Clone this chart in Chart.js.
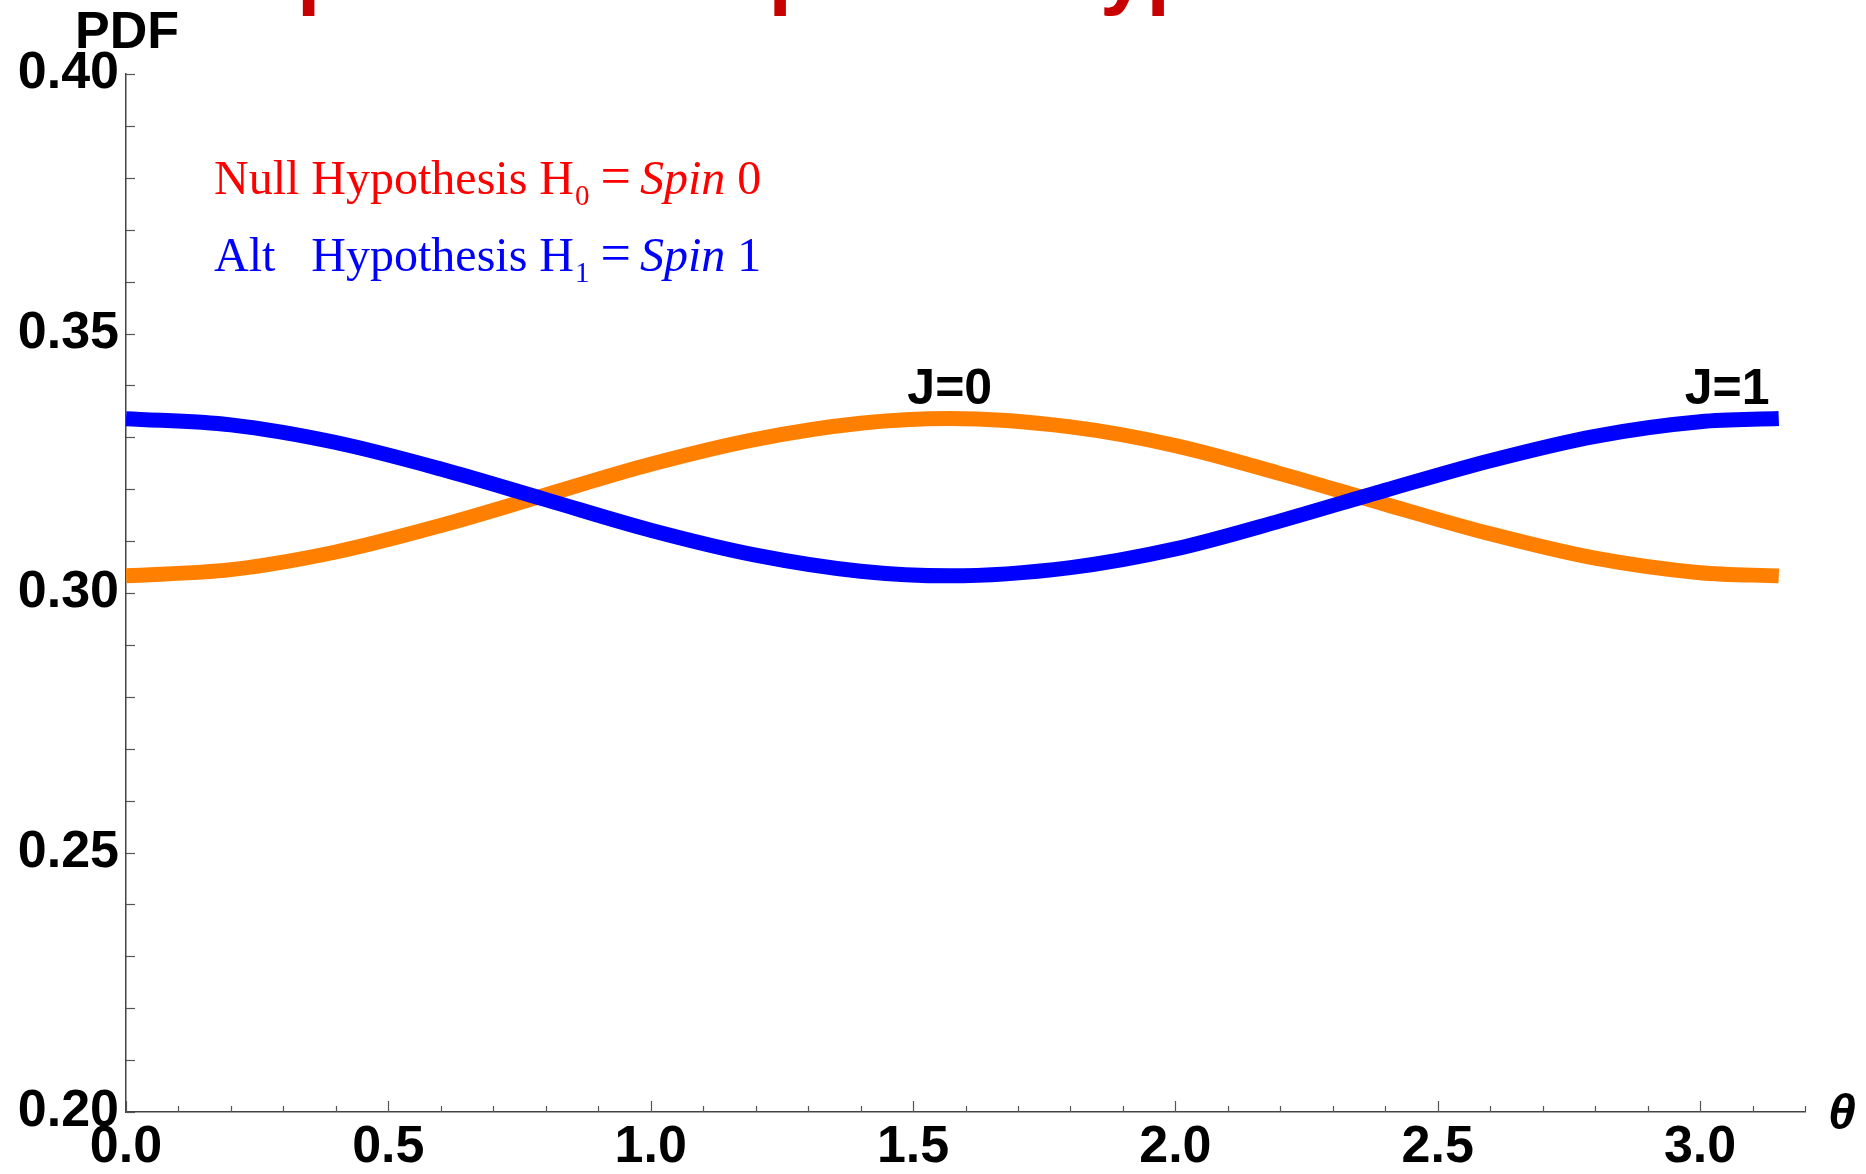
<!DOCTYPE html>
<html>
<head>
<meta charset="utf-8">
<title>PDF of θ for spin 0 and spin 1</title>
<script src="https://cdn.jsdelivr.net/npm/chart.js@4.4.1/dist/chart.umd.min.js"></script>
<style>
  html, body { margin: 0; padding: 0; background: #fff; overflow: hidden; }
  .pdfChart { position: relative; width: 1866px; height: 1174px; }
</style>
</head>
<body>
<div class="pdfChart"><canvas id="pdfChart__chart"></canvas></div>
<script>
// angle samples (rad) and the two angular distributions
const theta = [0, 0.2, 0.4, 0.6, 0.8, 1.0, 1.2, 1.4, 1.57, 1.8, 2.0, 2.2, 2.4, 2.6, 2.8, 3.0, 3.15];
const pdfSpin0 = [0.3033, 0.3045, 0.3079, 0.3130, 0.3189, 0.3248, 0.3296, 0.3327, 0.3336,
                  0.3320, 0.3284, 0.3230, 0.3171, 0.3114, 0.3067, 0.3039, 0.3033];
const pdfSpin1 = [0.3336, 0.3324, 0.3290, 0.3239, 0.3180, 0.3121, 0.3073, 0.3042, 0.3033,
                  0.3049, 0.3085, 0.3139, 0.3198, 0.3255, 0.3302, 0.3330, 0.3336];

// axis ranges and labelled ticks
const xRange = [0, 3.2];
const yRange = [0.2, 0.4];
const xLabels = [0.0, 0.5, 1.0, 1.5, 2.0, 2.5, 3.0];
const yLabels = [0.20, 0.25, 0.30, 0.35, 0.40];

const titleText = "Simple vs. Composite Hypothesis";
const curveLabels = ["J=0", "J=1"];

const SANS = "'Liberation Sans', Arial, sans-serif";
const SERIF = "'Liberation Serif', 'Times New Roman', serif";

const toPoints = (ys) => theta.map((t, i) => ({ x: t, y: ys[i] }));
const isLabelled = (v, list) => list.some((l) => Math.abs(l - v) < 1e-6);

// minor ticks every 0.1 on x and 0.01 on y
const stepTicks = (min, max, step) => {
  const out = [];
  const n = Math.round((max - min) / step);
  for (let i = 0; i <= n; i++) out.push({ value: +(min + i * step).toFixed(4) });
  return out;
};

// inward tick marks, axis annotations and the hypothesis key
const decorations = {
  id: "decorations",
  afterDraw(chart) {
    const { ctx, scales: { x, y }, chartArea } = chart;
    ctx.save();
    ctx.strokeStyle = "#555";
    ctx.lineWidth = 1.2;
    x.ticks.forEach((t) => {
      const px = Math.round(x.getPixelForValue(t.value)) + 0.5;
      const len = isLabelled(t.value, xLabels) ? 11 : 6;
      ctx.beginPath();
      ctx.moveTo(px, chartArea.bottom);
      ctx.lineTo(px, chartArea.bottom - len);
      ctx.stroke();
    });
    y.ticks.forEach((t) => {
      const py = Math.round(y.getPixelForValue(t.value)) + 0.5;
      ctx.beginPath();
      ctx.moveTo(chartArea.left, py);
      ctx.lineTo(chartArea.left + 9, py);
      ctx.stroke();
    });

    ctx.fillStyle = "#000";
    ctx.textBaseline = "alphabetic";
    ctx.textAlign = "center";
    ctx.font = `bold 52px ${SANS}`;
    ctx.fillText("PDF", 127, 48);
    ctx.font = `italic bold 50px ${SANS}`;
    ctx.fillText("θ", 1842, 1129);

    ctx.font = `bold 50px ${SANS}`;
    ctx.fillText(curveLabels[0], x.getPixelForValue(1.57), 404);
    ctx.fillText(curveLabels[1], x.getPixelForValue(3.0) + 27, 404);

    // title sits above the top edge, only its descenders reach the canvas
    ctx.textAlign = "left";
    ctx.fillStyle = "#c80000";
    ctx.font = `bold 84px ${SANS}`;
    ctx.fillText(titleText, 143, -1);

    // hypothesis key
    const drawKey = (color, lead, sub, spinNo, baseY) => {
      ctx.fillStyle = color;
      ctx.font = `48px ${SERIF}`;
      const x0 = 214;
      ctx.fillText(lead, x0, baseY);
      let cx = x0 + ctx.measureText("Null ").width;
      ctx.fillText("Hypothesis H", cx, baseY);
      cx += ctx.measureText("Hypothesis H").width + 1;
      ctx.font = `29px ${SERIF}`;
      ctx.fillText(sub, cx, baseY + 11);
      cx += ctx.measureText(sub).width + 11;
      ctx.font = `54px ${SERIF}`;
      ctx.fillText("=", cx, baseY);
      cx += ctx.measureText("=").width + 9;
      ctx.font = `italic 48px ${SERIF}`;
      ctx.fillText("Spin", cx, baseY);
      cx += ctx.measureText("Spin").width + 12;
      ctx.font = `48px ${SERIF}`;
      ctx.fillText(spinNo, cx, baseY);
    };
    drawKey("#ff0000", "Null", "0", "0", 194);
    drawKey("#0000ff", "Alt", "1", "1", 271);
    ctx.restore();
  },
};

const canvas = document.getElementById("pdfChart__chart");
new Chart(canvas, {
  type: "line",
  data: {
    datasets: [
      {
        label: "J=1",
        data: toPoints(pdfSpin1),
        borderColor: "#0000ff",
        borderWidth: 15,
        borderCapStyle: "butt",
        pointRadius: 0,
        cubicInterpolationMode: "monotone",
        order: 0,
      },
      {
        label: "J=0",
        data: toPoints(pdfSpin0),
        borderColor: "#ff8000",
        borderWidth: 15,
        borderCapStyle: "butt",
        pointRadius: 0,
        cubicInterpolationMode: "monotone",
        order: 1,
      },
    ],
  },
  options: {
    responsive: true,
    maintainAspectRatio: false,
    animation: false,
    layout: { padding: { top: 74, right: 61, left: 0, bottom: 0 } },
    plugins: { legend: false, tooltip: false, title: false },
    scales: {
      x: {
        type: "linear",
        min: xRange[0],
        max: xRange[1],
        afterBuildTicks: (s) => { s.ticks = stepTicks(xRange[0], xRange[1], 0.1); },
        afterFit: (s) => { s.height = 62; },
        grid: { display: false, drawTicks: false },
        border: { display: true, color: "#444", width: 1.5 },
        ticks: {
          autoSkip: false,
          maxRotation: 0,
          minRotation: 0,
          padding: 4,
          color: "#000",
          font: { family: SANS, size: 52, weight: "bold" },
          callback: (v) => (isLabelled(v, xLabels) ? v.toFixed(1) : ""),
        },
      },
      y: {
        min: yRange[0],
        max: yRange[1],
        afterBuildTicks: (s) => { s.ticks = stepTicks(yRange[0], yRange[1], 0.01); },
        afterFit: (s) => { s.width = 126; },
        grid: { display: false, drawTicks: false },
        border: { display: true, color: "#444", width: 1.5 },
        ticks: {
          autoSkip: false,
          padding: 7,
          color: "#000",
          font: { family: SANS, size: 52, weight: "bold" },
          callback: (v) => (isLabelled(v, yLabels) ? v.toFixed(2) : ""),
        },
      },
    },
  },
  plugins: [decorations],
});
</script>
</body>
</html>
